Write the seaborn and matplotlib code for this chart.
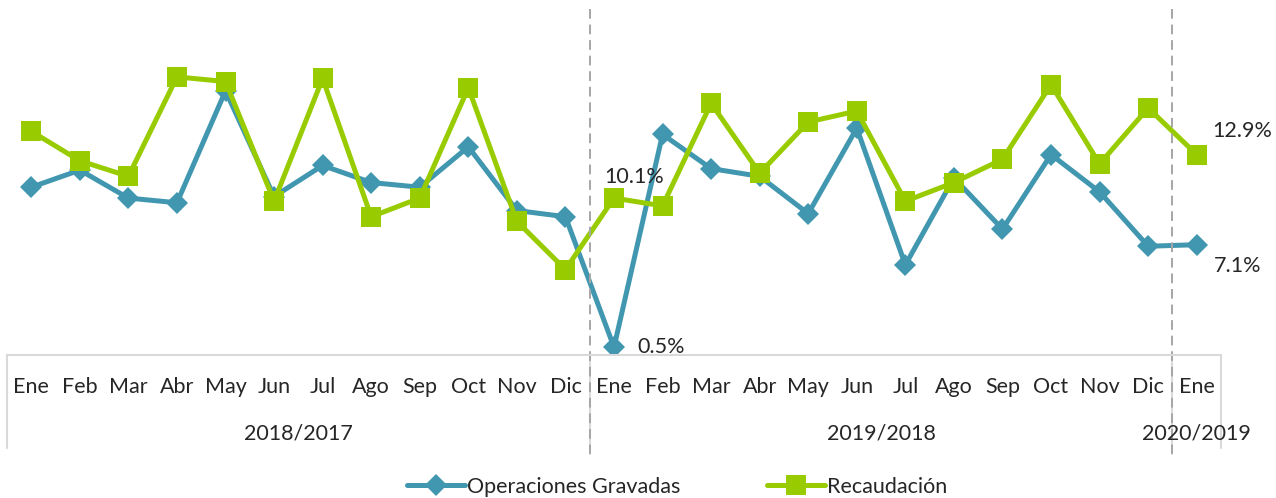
import pandas as pd
import matplotlib.pyplot as plt
import matplotlib.transforms as mtransforms
import seaborn as sns

# Datos (variacion % anual)
meses = ['Ene', 'Feb', 'Mar', 'Abr', 'May', 'Jun', 'Jul', 'Ago', 'Sep', 'Oct', 'Nov', 'Dic'] * 2 + ['Ene']
periodos = ['2018/2017', '2019/2018', '2020/2019']
operaciones = [10.8, 11.9, 10.1, 9.8, 17.0, 10.2, 12.2, 11.1, 10.8, 13.4, 9.3, 8.9,
               0.5, 14.2, 12.0, 11.5, 9.1, 14.6, 5.8, 11.4, 8.1, 12.9, 10.5, 7.0, 7.1]
recaudacion = [14.4, 12.5, 11.5, 17.9, 17.6, 9.9, 17.8, 8.9, 10.1, 17.2, 8.6, 5.5,
               10.1, 9.6, 16.2, 11.7, 15.0, 15.7, 9.9, 11.1, 12.6, 17.4, 12.3, 15.9, 12.9]

df = pd.DataFrame({'idx': range(len(meses)), 'Operaciones Gravadas': operaciones,
                   'Recaudación': recaudacion})

sns.set_style('white')
plt.rcParams['font.family'] = ['Lato', 'DejaVu Sans']

azul = '#4197B0'
verde = '#99CC00'
fs = 15.5

fig = plt.figure(figsize=(12.76, 4.98), dpi=100)
ax = fig.add_axes([7 / 1276, (498 - 355) / 498, 1214 / 1276, 355 / 498])

sns.lineplot(data=df, x='idx', y='Operaciones Gravadas', ax=ax, color=azul, linewidth=3.6,
             marker='D', markersize=11, markeredgewidth=0, label='Operaciones Gravadas')
sns.lineplot(data=df, x='idx', y='Recaudación', ax=ax, color=verde, linewidth=3.6,
             marker='s', markersize=14, markeredgewidth=0, label='Recaudación')

ax.set_xlim(-0.5, len(meses) - 0.5)
ax.set_ylim(0, 22.85)
ax.set_xlabel('')
ax.set_ylabel('')
ax.set_yticks([])
ax.set_xticks(range(len(meses)))
ax.set_xticklabels(meses, fontsize=fs)
ax.tick_params(axis='x', length=0, pad=16)
for s in ['top', 'left', 'right']:
    ax.spines[s].set_visible(False)
ax.spines['bottom'].set_color('#D9D9D9')
ax.spines['bottom'].set_linewidth(1.5)

trans = mtransforms.blended_transform_factory(ax.transData, ax.transAxes)
# separadores de grupos
for x in [-0.5, 11.5, 23.5, 24.5]:
    ax.plot([x, x], [0, -0.262], transform=trans, color='#D9D9D9', lw=1.5, clip_on=False)
for x in [11.5, 23.5]:
    ax.plot([x, x], [0.975, -0.296], transform=trans, color='#A6A6A6', lw=1.4,
            linestyle=(0, (5, 3)), clip_on=False)

# etiquetas de periodo
for x, txt in zip([5.5, 17.5, 24.0], periodos):
    ax.text(x, -0.22, txt, transform=trans, ha='center', va='center', fontsize=fs)

# etiquetas de datos
ax.annotate(f'{recaudacion[12]}%', (12, recaudacion[12]), xytext=(-7, 15),
            textcoords='offset points', fontsize=fs, ha='left', va='center')
ax.annotate(f'{operaciones[12]}%', (12, operaciones[12]), xytext=(17, 0),
            textcoords='offset points', fontsize=fs, ha='left', va='center')
ax.annotate(f'{recaudacion[24]}%', (24, recaudacion[24]), xytext=(11, 17),
            textcoords='offset points', fontsize=fs, ha='left', va='center')
ax.annotate(f'{operaciones[24]}%', (24, operaciones[24]), xytext=(12, -15),
            textcoords='offset points', fontsize=fs, ha='left', va='center')

handles, labels = ax.get_legend_handles_labels()
ax.get_legend().remove()
fig.legend(handles, labels, loc='center', bbox_to_anchor=(677 / 1276, 11 / 498), ncol=2,
           frameon=False, fontsize=fs, handlelength=2.7, handletextpad=0.1,
           columnspacing=4.0)

fig.savefig('out.png', dpi=100)
